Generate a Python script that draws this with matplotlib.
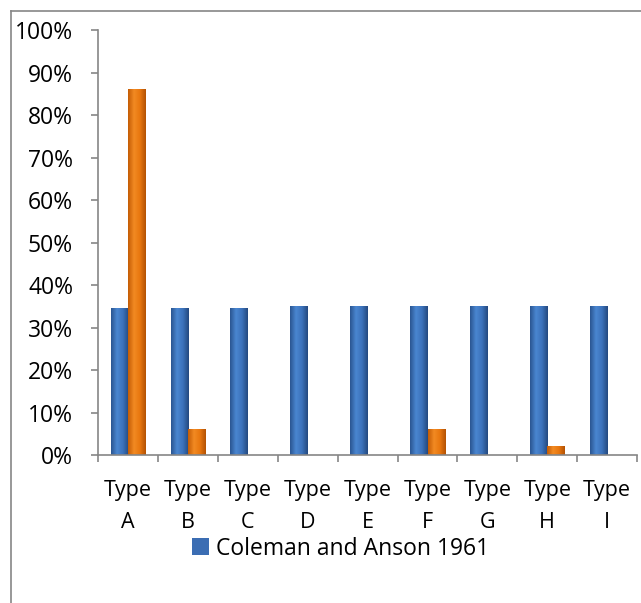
import numpy as np
import matplotlib.pyplot as plt
from matplotlib.lines import Line2D
from matplotlib.colors import LinearSegmentedColormap

# data
categories = ['A', 'B', 'C', 'D', 'E', 'F', 'G', 'H', 'I']
coleman = [34.5, 34.5, 34.5, 35, 35, 35, 35, 35, 35]
other = [86, 6, 0, 0, 0, 6, 0, 2, 0]
series_name = 'Coleman and Anson 1961'

plt.rcParams['font.family'] = ['Open Sans', 'DejaVu Sans']

fig = plt.figure(figsize=(6.41, 6.03), dpi=100)
ax = fig.add_axes([0.153, 0.245, 0.841, 0.705])

x = np.arange(len(categories))
w = 0.29
b1 = ax.bar(x - w / 2, coleman, w, color='#3b6db3', edgecolor='none', label=series_name)
b2 = ax.bar(x + w / 2, other, w, color='#e8750f', edgecolor='none')

# shaded look like the office chart: dark sides, lighter middle
blue_cm = LinearSegmentedColormap.from_list('b', ['#2a5591', '#4a86d0', '#3c72bb', '#24497f'])
orange_cm = LinearSegmentedColormap.from_list('o', ['#c45c05', '#f28a22', '#e8770f', '#b35204'])
grad = np.linspace(0, 1, 64).reshape(1, -1)
for bars, cm in [(b1, blue_cm), (b2, orange_cm)]:
    for r in bars:
        if r.get_height() <= 0:
            continue
        x0, y0 = r.get_x(), r.get_y()
        ax.imshow(grad, extent=[x0, x0 + r.get_width(), y0, y0 + r.get_height()],
                  aspect='auto', cmap=cm, zorder=2, interpolation='bilinear')

ax.set_xlim(-0.5, len(categories) - 0.5)
ax.set_ylim(0, 100)
ax.set_aspect('auto')
ax.set_yticks(np.arange(0, 101, 10))
ax.set_yticklabels(['%d%%' % v for v in range(0, 101, 10)], fontsize=16.5)

# ticks on category boundaries, labels at centres
ax.set_xticks(np.arange(-0.5, len(categories), 1))
ax.set_xticklabels([])
ax.set_xticks(x, minor=True)
ax.set_xticklabels(['Type\n' + c for c in categories], minor=True, fontsize=15.5,
                   linespacing=1.65)
ax.tick_params(axis='x', which='minor', length=0, pad=18)
ax.tick_params(axis='x', which='major', length=5, color='#868686', width=1.2)
ax.tick_params(axis='y', length=5, color='#868686', width=1.2, pad=13)

for s in ['top', 'right']:
    ax.spines[s].set_visible(False)
for s in ['left', 'bottom']:
    ax.spines[s].set_color('#868686')
    ax.spines[s].set_linewidth(1.2)

leg = ax.legend(loc='upper center', bbox_to_anchor=(0.45, -0.17), frameon=False,
                fontsize=16.5, handlelength=0.75, handleheight=0.75, handletextpad=0.3,
                borderaxespad=0)

# chart frame (partly cropped in the reference)
fig.add_artist(Line2D([10.5 / 641, 10.5 / 641], [0, 1 - 10.5 / 603],
                      transform=fig.transFigure, color='#868686', lw=1.2))
fig.add_artist(Line2D([10.5 / 641, 1], [1 - 10.5 / 603, 1 - 10.5 / 603],
                      transform=fig.transFigure, color='#868686', lw=1.2))

fig.savefig('out.png', dpi=100)
